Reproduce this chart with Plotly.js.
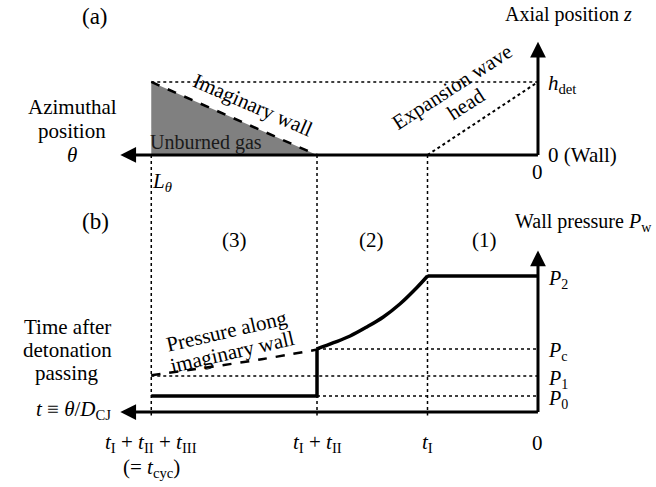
<!DOCTYPE html>
<html>
<head>
<meta charset="utf-8">
<script src="https://cdn.plot.ly/plotly-3.0.1.min.js"></script>
<style>html,body{margin:0;padding:0;background:#fff;}#plot{width:656px;height:487px;}</style>
</head>
<body>
<div id="plot"></div>
<script>
// ---- schematic values (arbitrary units) ----
const tI = 1.0, tII = 1.0, tIII = 1.5;
const tickT = [tI + tII + tIII, tI + tII, tI, 0];
const tickLabels = [
  '<i>t</i><sub>I</sub> + <i>t</i><sub>II</sub> + <i>t</i><sub>III</sub>',
  '<i>t</i><sub>I</sub> + <i>t</i><sub>II</sub>',
  '<i>t</i><sub>I</sub>',
  '0'
];
const cycLabel = '(= <i>t</i><sub>cyc</sub>)';
const hDet = 1.0;
const pressureNames = ['P0', 'P1', 'Pc', 'P2'];
const pressureLevels = [1.0, 2.25, 3.94, 8.5];
const pressureLabels = ['<i>P</i><sub>0</sub>', '<i>P</i><sub>1</sub>', '<i>P</i><sub>c</sub>', '<i>P</i><sub>2</sub>'];
// expansion region (2): wall pressure rising from Pc to P2
const expT = [2.0, 1.85, 1.7, 1.55, 1.4, 1.25, 1.1, 1.0];
const expP = [3.94, 4.33, 4.75, 5.31, 5.94, 6.75, 7.75, 8.5];
// pressure along imaginary wall (region 3)
const imagT = [3.5, 3.0, 2.5, 2.0];
const imagP = [2.3, 2.78, 3.3, 3.9];

const W = 656, H = 487;
const P0 = pressureLevels[0], P1 = pressureLevels[1], Pc = pressureLevels[2], P2 = pressureLevels[3];
const tCyc = tickT[0], t12 = tickT[1];

const FONT = 'Liberation Serif';
const FS = 21;
const px = x => x / W, py = y => 1 - y / H;

const traces = [];
// --- panel (a) ---
traces.push({x: [tCyc, tCyc, t12, tCyc], y: [hDet, 0, 0, hDet], fill: 'toself', fillcolor: '#808080',
  mode: 'lines', line: {width: 0, color: '#808080'}, xaxis: 'x', yaxis: 'y', hoverinfo: 'skip'});
traces.push({x: [tCyc, t12], y: [hDet, 0], mode: 'lines', line: {color: '#000', width: 2.5, dash: 'dash'}, xaxis: 'x', yaxis: 'y'});
traces.push({x: [tCyc, 0], y: [hDet, hDet], mode: 'lines', line: {color: '#000', width: 1.5, dash: 'dot'}, xaxis: 'x', yaxis: 'y'});
traces.push({x: [tI, 0], y: [0, hDet], mode: 'lines', line: {color: '#000', width: 2, dash: 'dot'}, xaxis: 'x', yaxis: 'y'});
// vertical dotted guides through both panels
[tCyc, t12, tI].forEach(t => traces.push({x: [t, t], y: [0, -3.57], mode: 'lines', line: {color: '#000', width: 1.5, dash: 'dot'}, xaxis: 'x', yaxis: 'y'}));
// --- panel (b) ---
traces.push({x: [t12, 0], y: [Pc, Pc], mode: 'lines', line: {color: '#000', width: 1.5, dash: 'dot'}, xaxis: 'x', yaxis: 'y2'});
traces.push({x: [tCyc, 0], y: [P1, P1], mode: 'lines', line: {color: '#000', width: 1.5, dash: 'dot'}, xaxis: 'x', yaxis: 'y2'});
traces.push({x: [t12, 0], y: [P0, P0], mode: 'lines', line: {color: '#000', width: 1.5, dash: 'dot'}, xaxis: 'x', yaxis: 'y2'});
traces.push({x: imagT, y: imagP, mode: 'lines', line: {color: '#000', width: 2.5, dash: 'dash', shape: 'spline'}, xaxis: 'x', yaxis: 'y2'});
traces.push({x: [tCyc, t12, t12], y: [P0, P0, Pc], mode: 'lines', line: {color: '#000', width: 3.5}, xaxis: 'x', yaxis: 'y2'});
traces.push({x: expT, y: expP, mode: 'lines', line: {color: '#000', width: 3.5, shape: 'spline'}, xaxis: 'x', yaxis: 'y2'});
traces.push({x: [tI, 0], y: [P2, P2], mode: 'lines', line: {color: '#000', width: 3.5}, xaxis: 'x', yaxis: 'y2'});

const ax = {visible: false, showgrid: false, zeroline: false, fixedrange: true};
const layout = {
  width: W, height: H, margin: {l: 0, r: 0, t: 0, b: 0},
  paper_bgcolor: '#fff', plot_bgcolor: '#fff', showlegend: false,
  xaxis: Object.assign({range: [4.869, -1.068], domain: [0, 1]}, ax),
  yaxis: Object.assign({range: [-4.548, 2.123], domain: [0, 1]}, ax),
  yaxis2: Object.assign({range: [-4.6875, 25.75], overlaying: 'y'}, ax),
  annotations: []
};
const A = layout.annotations;
function arrow(x, y, x0, y0, yref) {
  A.push({x: x, y: y, ax: x0, ay: y0, xref: 'x', yref: yref, axref: 'x', ayref: yref, text: '',
    showarrow: true, arrowhead: 2, arrowsize: 1.05, arrowwidth: 3, arrowcolor: '#000', standoff: 0, startstandoff: 0});
}
arrow(3.78, 0, -0.013, 0, 'y');
arrow(0, 1.55, 0, -0.02, 'y');
arrow(3.78, 0, -0.013, 0, 'y2');
arrow(0, 10.1, 0, -0.1, 'y2');

function txt(x, y, s, opt) {
  A.push(Object.assign({x: px(x), y: py(y), xref: 'paper', yref: 'paper', text: s, showarrow: false,
    font: {family: FONT, size: FS, color: '#000'}, xanchor: 'center', yanchor: 'middle'}, opt || {}));
}
txt(95, 16, '(a)', {font: {family: FONT, size: 23, color: '#000'}});
txt(95, 221, '(b)', {font: {family: FONT, size: 23, color: '#000'}});
txt(503, 15, 'Axial position <i>z</i>', {xanchor: 'left', font: {family: FONT, size: 20, color: '#000'}});
txt(546, 84, '<i>h</i><sub>det</sub>', {xanchor: 'left'});
txt(546, 155, '0 (Wall)', {xanchor: 'left'});
txt(72, 107, 'Azimuthal');
txt(72, 131, 'position');
txt(72, 155, '<i>θ</i>');
txt(150, 182, '<i>L</i><sub><i>θ</i></sub>', {xanchor: 'left'});
txt(206, 143, 'Unburned gas', {font: {family: FONT, size: 20, color: '#1a1a1a'}});
txt(253, 105, 'Imaginary wall', {textangle: 23.5});
txt(452, 87, 'Expansion wave', {textangle: -33});
txt(466, 104, 'head', {textangle: -33});
txt(654, 222, 'Wall pressure <i>P</i><sub>w</sub>', {xanchor: 'right', font: {family: FONT, size: 20, color: '#000'}});
txt(234, 240, '(3)'); txt(371, 240, '(2)'); txt(484, 240, '(1)');
txt(67, 327, 'Time after');
txt(67, 350, 'detonation');
txt(67, 373, 'passing');
txt(227, 331, 'Pressure along', {textangle: -13});
txt(232, 352, 'imaginary wall', {textangle: -13});
txt(113, 410, '<i>t</i> ≡ <i>θ</i>/<i>D</i><sub>CJ</sub>', {xanchor: 'right'});
// axis-like labels at data positions
A.push({x: 0, y: py(172), xref: 'x', yref: 'paper', text: '0', showarrow: false, font: {family: FONT, size: FS, color: '#000'}});
pressureLabels.forEach((s, i) => A.push({x: -0.07, y: pressureLevels[i], xref: 'x', yref: 'y2', text: s, showarrow: false,
  xanchor: 'left', yanchor: 'middle', yshift: -3, font: {family: FONT, size: 20, color: '#000'}}));
tickLabels.forEach((s, i) => A.push({x: tickT[i], y: py(443), xref: 'x', yref: 'paper', text: s, showarrow: false,
  xanchor: 'center', yanchor: 'middle', font: {family: FONT, size: FS, color: '#000'}}));
A.push({x: tickT[0], y: py(468), xref: 'x', yref: 'paper', text: cycLabel, showarrow: false,
  xanchor: 'center', yanchor: 'middle', font: {family: FONT, size: FS, color: '#000'}});

Plotly.newPlot('plot', traces, layout, {displayModeBar: false, staticPlot: true});
</script>
</body>
</html>
